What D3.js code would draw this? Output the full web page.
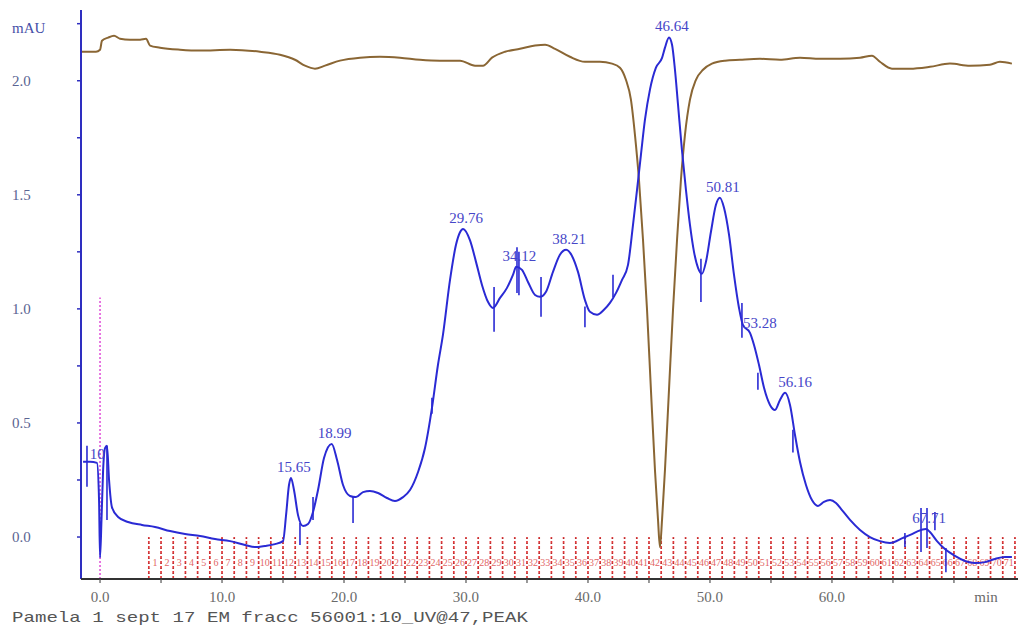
<!DOCTYPE html>
<html>
<head>
<meta charset="utf-8">
<script src="https://cdn.jsdelivr.net/npm/d3@7"></script>
<style>
  html, body { margin: 0; padding: 0; background: #ffffff; }
  svg { display: block; }
</style>
</head>
<body>
<svg id="chart" width="1024" height="629"></svg>
<script>
// UV absorbance trace (min, mAU)
const uvTime = [-1.39,-0.82,-0.25,-0.08,0.0,0.12,0.25,0.41,0.57,0.74,0.98,1.48,2.30,3.44,4.51,5.74,6.97,8.20,9.43,10.66,11.89,12.70,13.52,14.34,15.0,15.25,15.49,15.65,15.90,16.23,16.64,17.05,17.46,17.87,18.36,18.99,19.43,19.92,20.49,20.98,21.56,22.13,22.79,23.52,24.18,24.84,25.41,26.07,26.64,27.21,27.70,28.11,28.69,29.18,29.50,29.76,30.33,30.82,31.31,31.80,32.21,32.79,33.36,33.85,34.12,34.59,35.08,35.66,36.07,36.56,37.13,37.70,38.21,38.69,39.18,39.75,40.16,40.74,41.31,41.80,42.30,42.79,43.28,43.69,44.02,44.34,44.67,45.08,45.57,46.07,46.31,46.64,46.89,47.13,47.38,47.70,48.03,48.36,48.69,49.02,49.34,49.67,50.08,50.49,50.81,51.15,51.56,51.97,52.38,52.70,53.28,53.61,54.02,54.43,54.92,55.33,55.74,56.16,56.56,56.97,57.38,57.87,58.36,58.85,59.34,59.84,60.33,60.82,61.48,62.30,63.11,63.93,64.75,65.82,66.56,67.05,67.71,68.03,68.61,69.26,70.08,70.90,71.72,72.54,73.36,74.18,74.75];
const uvValue = [0.33,0.33,0.325,0.16,-0.09,0.075,0.29,0.39,0.40,0.25,0.13,0.088,0.066,0.053,0.044,0.026,0.013,0.004,-0.009,-0.018,-0.035,-0.044,-0.039,-0.031,-0.018,0.096,0.228,0.259,0.206,0.096,0.048,0.057,0.11,0.206,0.346,0.408,0.338,0.228,0.18,0.175,0.197,0.202,0.193,0.171,0.158,0.175,0.206,0.285,0.39,0.566,0.754,0.886,1.127,1.281,1.335,1.350,1.30,1.206,1.105,1.031,1.004,1.048,1.092,1.149,1.185,1.171,1.118,1.061,1.053,1.075,1.162,1.237,1.259,1.232,1.162,1.039,0.987,0.974,0.996,1.026,1.070,1.127,1.193,1.368,1.522,1.675,1.829,1.961,2.057,2.10,2.145,2.19,2.158,2.048,1.895,1.697,1.522,1.368,1.25,1.18,1.154,1.206,1.338,1.456,1.487,1.443,1.325,1.149,1.004,0.93,0.895,0.842,0.754,0.654,0.579,0.557,0.601,0.632,0.579,0.447,0.329,0.228,0.162,0.136,0.154,0.162,0.149,0.118,0.075,0.031,0.0,-0.018,-0.026,-0.004,0.013,0.026,0.035,0.022,-0.018,-0.053,-0.083,-0.105,-0.114,-0.11,-0.096,-0.088,-0.088];

// Second trace (conductivity-style signal) on the same axis
const condTime = [-1.48,-0.33,0.0,0.16,0.66,1.15,1.64,2.46,3.28,3.77,4.10,4.92,6.56,8.20,10.66,13.11,14.75,15.98,16.80,17.62,18.44,19.67,21.31,22.95,24.59,26.23,27.87,29.51,30.74,31.39,32.13,33.20,34.43,35.66,36.48,37.30,38.52,39.75,40.98,41.97,42.62,43.11,43.52,43.85,44.18,44.51,44.84,45.16,45.49,45.74,45.90,46.07,46.31,46.64,46.97,47.30,47.62,47.95,48.36,48.85,49.43,50.16,51.23,52.46,54.10,55.74,57.38,59.02,60.66,62.30,63.28,63.93,64.92,66.39,68.03,69.67,71.31,72.95,73.77,74.75];
const condValue = [2.127,2.127,2.136,2.175,2.189,2.197,2.184,2.18,2.18,2.184,2.154,2.145,2.136,2.132,2.136,2.127,2.114,2.092,2.066,2.053,2.066,2.088,2.101,2.105,2.101,2.092,2.088,2.088,2.066,2.066,2.101,2.127,2.14,2.154,2.158,2.14,2.105,2.083,2.083,2.075,2.057,2.004,1.917,1.763,1.566,1.303,0.996,0.645,0.294,0.075,-0.044,0.075,0.294,0.645,0.996,1.303,1.566,1.763,1.917,2.004,2.048,2.075,2.088,2.092,2.096,2.092,2.101,2.096,2.096,2.101,2.11,2.083,2.053,2.053,2.061,2.075,2.066,2.07,2.083,2.075];

// Peak retention times, their labels and apex heights
const peakTimes  = [0.10, 15.65, 18.99, 29.76, 34.12, 38.21, 46.64, 50.81, 53.28, 56.16, 67.71];
const peakLabels = ["10", "15.65", "18.99", "29.76", "34.12", "38.21", "46.64", "50.81", "53.28", "56.16", "67.71"];
const peakHeights = [0.33, 0.259, 0.408, 1.350, 1.185, 1.259, 2.19, 1.487, 0.93, 0.632, 0.035];

// Integration boundary marks: time, top and bottom (mAU)
const markTime   = [-1.07, 0.57, 16.39, 17.46, 20.74, 27.21, 32.30, 34.18, 34.34, 36.15, 39.75, 42.05, 49.26, 52.62, 53.93, 56.80, 65.98, 67.30, 67.79, 68.44, 69.34];
const markTop    = [0.40, 0.40, 0.061, 0.175, 0.175, 0.61, 1.096, 1.27, 1.25, 1.14, 1.01, 1.15, 1.22, 1.026, 0.72, 0.47, 0.018, 0.127, 0.127, 0.11, -0.048];
const markBottom = [0.22, 0.075, -0.035, 0.075, 0.061, 0.54, 0.90, 1.07, 1.06, 0.965, 0.92, 1.05, 1.03, 0.873, 0.645, 0.37, -0.044, -0.066, -0.048, 0.03, -0.154];

// Fraction collector boundaries (min)
const fractionEdges = d3.range(4, 76, 1);
const fractionLabels = d3.range(1, fractionEdges.length).map(String);

// Axis ticks
const xTickValues = [0, 10, 20, 30, 40, 50, 60];
const xMinorTicks = d3.range(0, 75, 5);
const yTickValues = [0.0, 0.5, 1.0, 1.5, 2.0];
const yMinorTicks = d3.range(0, 2.3, 0.25);
const injectionTime = 0.0;
const injectionTop = 1.05;

const svg = d3.select("#chart");

const x = d3.scaleLinear().domain([-1.56, 75.25]).range([81, 1018]);
const y = d3.scaleLinear().domain([-0.184, 2.31]).range([579, 10]);

// fraction markers
const frac = svg.append("g");
frac.selectAll("line.frac")
  .data(fractionEdges)
  .join("line")
  .attr("class", "frac")
  .attr("x1", d => x(d)).attr("x2", d => x(d))
  .attr("y1", y(-0.184)).attr("y2", y(0.0))
  .attr("stroke", "#e0383a").attr("stroke-width", 1.7)
  .attr("stroke-dasharray", "3,2");
frac.selectAll("line.dot")
  .data(fractionEdges)
  .join("line")
  .attr("class", "dot")
  .attr("x1", d => x(d)).attr("x2", d => x(d))
  .attr("y1", y(-0.184)).attr("y2", y(0.0))
  .attr("stroke", "#8a2a2a").attr("stroke-width", 1)
  .attr("stroke-dasharray", "1,4")
  .attr("opacity", 0.7);
frac.selectAll("text")
  .data(fractionLabels)
  .join("text")
  .attr("x", (d, i) => (x(fractionEdges[i]) + x(fractionEdges[i + 1])) / 2)
  .attr("y", y(-0.125))
  .attr("text-anchor", "middle")
  .attr("font-family", "Liberation Serif, serif")
  .attr("font-size", 10)
  .attr("fill", "#d83030")
  .attr("opacity", 0.75)
  .text(d => d);

// injection marker
svg.append("line")
  .attr("x1", x(injectionTime)).attr("x2", x(injectionTime))
  .attr("y1", y(-0.184)).attr("y2", y(injectionTop))
  .attr("stroke", "#e04ad8").attr("stroke-width", 1.5)
  .attr("stroke-dasharray", "2,2");

// traces
const line = d3.line().curve(d3.curveMonotoneX).x(d => x(d[0])).y(d => y(d[1]));

svg.append("path")
  .datum(condTime.map((t, i) => [t, condValue[i]]))
  .attr("d", line)
  .attr("fill", "none")
  .attr("stroke", "#8a6634")
  .attr("stroke-width", 2);

svg.append("path")
  .datum(uvTime.map((t, i) => [t, uvValue[i]]))
  .attr("d", line)
  .attr("fill", "none")
  .attr("stroke", "#2a2ad4")
  .attr("stroke-width", 2);

// integration marks
svg.append("g").selectAll("line")
  .data(markTime)
  .join("line")
  .attr("x1", d => x(d)).attr("x2", d => x(d))
  .attr("y1", (d, i) => y(markTop[i])).attr("y2", (d, i) => y(markBottom[i]))
  .attr("stroke", "#2a2ad4").attr("stroke-width", 1.6);

// peak labels
const labelDx = i => (i === 0 ? -4 : (i === 8 || i === 9 ? 10 : 3));
const labelDy = i => (i === 0 ? -3 : (i === 8 ? 3 : -6));
svg.append("g").selectAll("text")
  .data(peakTimes)
  .join("text")
  .attr("x", (d, i) => x(d) + labelDx(i))
  .attr("y", (d, i) => y(peakHeights[i]) + labelDy(i))
  .attr("text-anchor", "middle")
  .attr("font-family", "Liberation Serif, serif")
  .attr("font-size", 15)
  .attr("fill", "#4646c8")
  .text((d, i) => peakLabels[i]);

// y axis
const yAxis = svg.append("g");
yAxis.append("line")
  .attr("x1", 81).attr("x2", 81).attr("y1", 10).attr("y2", 579)
  .attr("stroke", "#2e2ec0").attr("stroke-width", 2);
yAxis.selectAll("line.tick")
  .data(yMinorTicks)
  .join("line")
  .attr("class", "tick")
  .attr("x1", 77).attr("x2", 81)
  .attr("y1", d => y(d)).attr("y2", d => y(d))
  .attr("stroke", "#2e2ec0").attr("stroke-width", 1.5);
yAxis.selectAll("text.lbl")
  .data(yTickValues)
  .join("text")
  .attr("class", "lbl")
  .attr("x", 12)
  .attr("y", d => y(d) + 5)
  .attr("font-family", "Liberation Serif, serif")
  .attr("font-size", 15)
  .attr("fill", "#5a6492")
  .text(d => d3.format(".1f")(d));
yAxis.append("text")
  .attr("x", 12).attr("y", 33)
  .attr("font-family", "Liberation Serif, serif")
  .attr("font-size", 15)
  .attr("fill", "#4650a8")
  .text("mAU");

// x axis
const xAxis = svg.append("g");
xAxis.append("line")
  .attr("x1", 81).attr("x2", 1018).attr("y1", 579).attr("y2", 579)
  .attr("stroke", "#333333").attr("stroke-width", 2);
xAxis.selectAll("line.tick")
  .data(xMinorTicks)
  .join("line")
  .attr("class", "tick")
  .attr("x1", d => x(d)).attr("x2", d => x(d))
  .attr("y1", 579).attr("y2", 583)
  .attr("stroke", "#555555").attr("stroke-width", 1.2);
xAxis.selectAll("text.lbl")
  .data(xTickValues)
  .join("text")
  .attr("class", "lbl")
  .attr("x", d => x(d))
  .attr("y", 602)
  .attr("text-anchor", "middle")
  .attr("font-family", "Liberation Serif, serif")
  .attr("font-size", 15)
  .attr("fill", "#6a6a6a")
  .text(d => d3.format(".1f")(d));
xAxis.append("text")
  .attr("x", 986).attr("y", 602)
  .attr("text-anchor", "middle")
  .attr("font-family", "Liberation Serif, serif")
  .attr("font-size", 15)
  .attr("fill", "#6a6a6a")
  .text("min");

// run caption
svg.append("text")
  .attr("x", 12).attr("y", 622)
  .attr("font-family", "Liberation Mono, monospace")
  .attr("font-size", 15)
  .attr("textLength", 516)
  .attr("lengthAdjust", "spacingAndGlyphs")
  .attr("fill", "#555555")
  .text("Pamela 1 sept 17 EM fracc 56001:10_UV@47,PEAK");
</script>
</body>
</html>
